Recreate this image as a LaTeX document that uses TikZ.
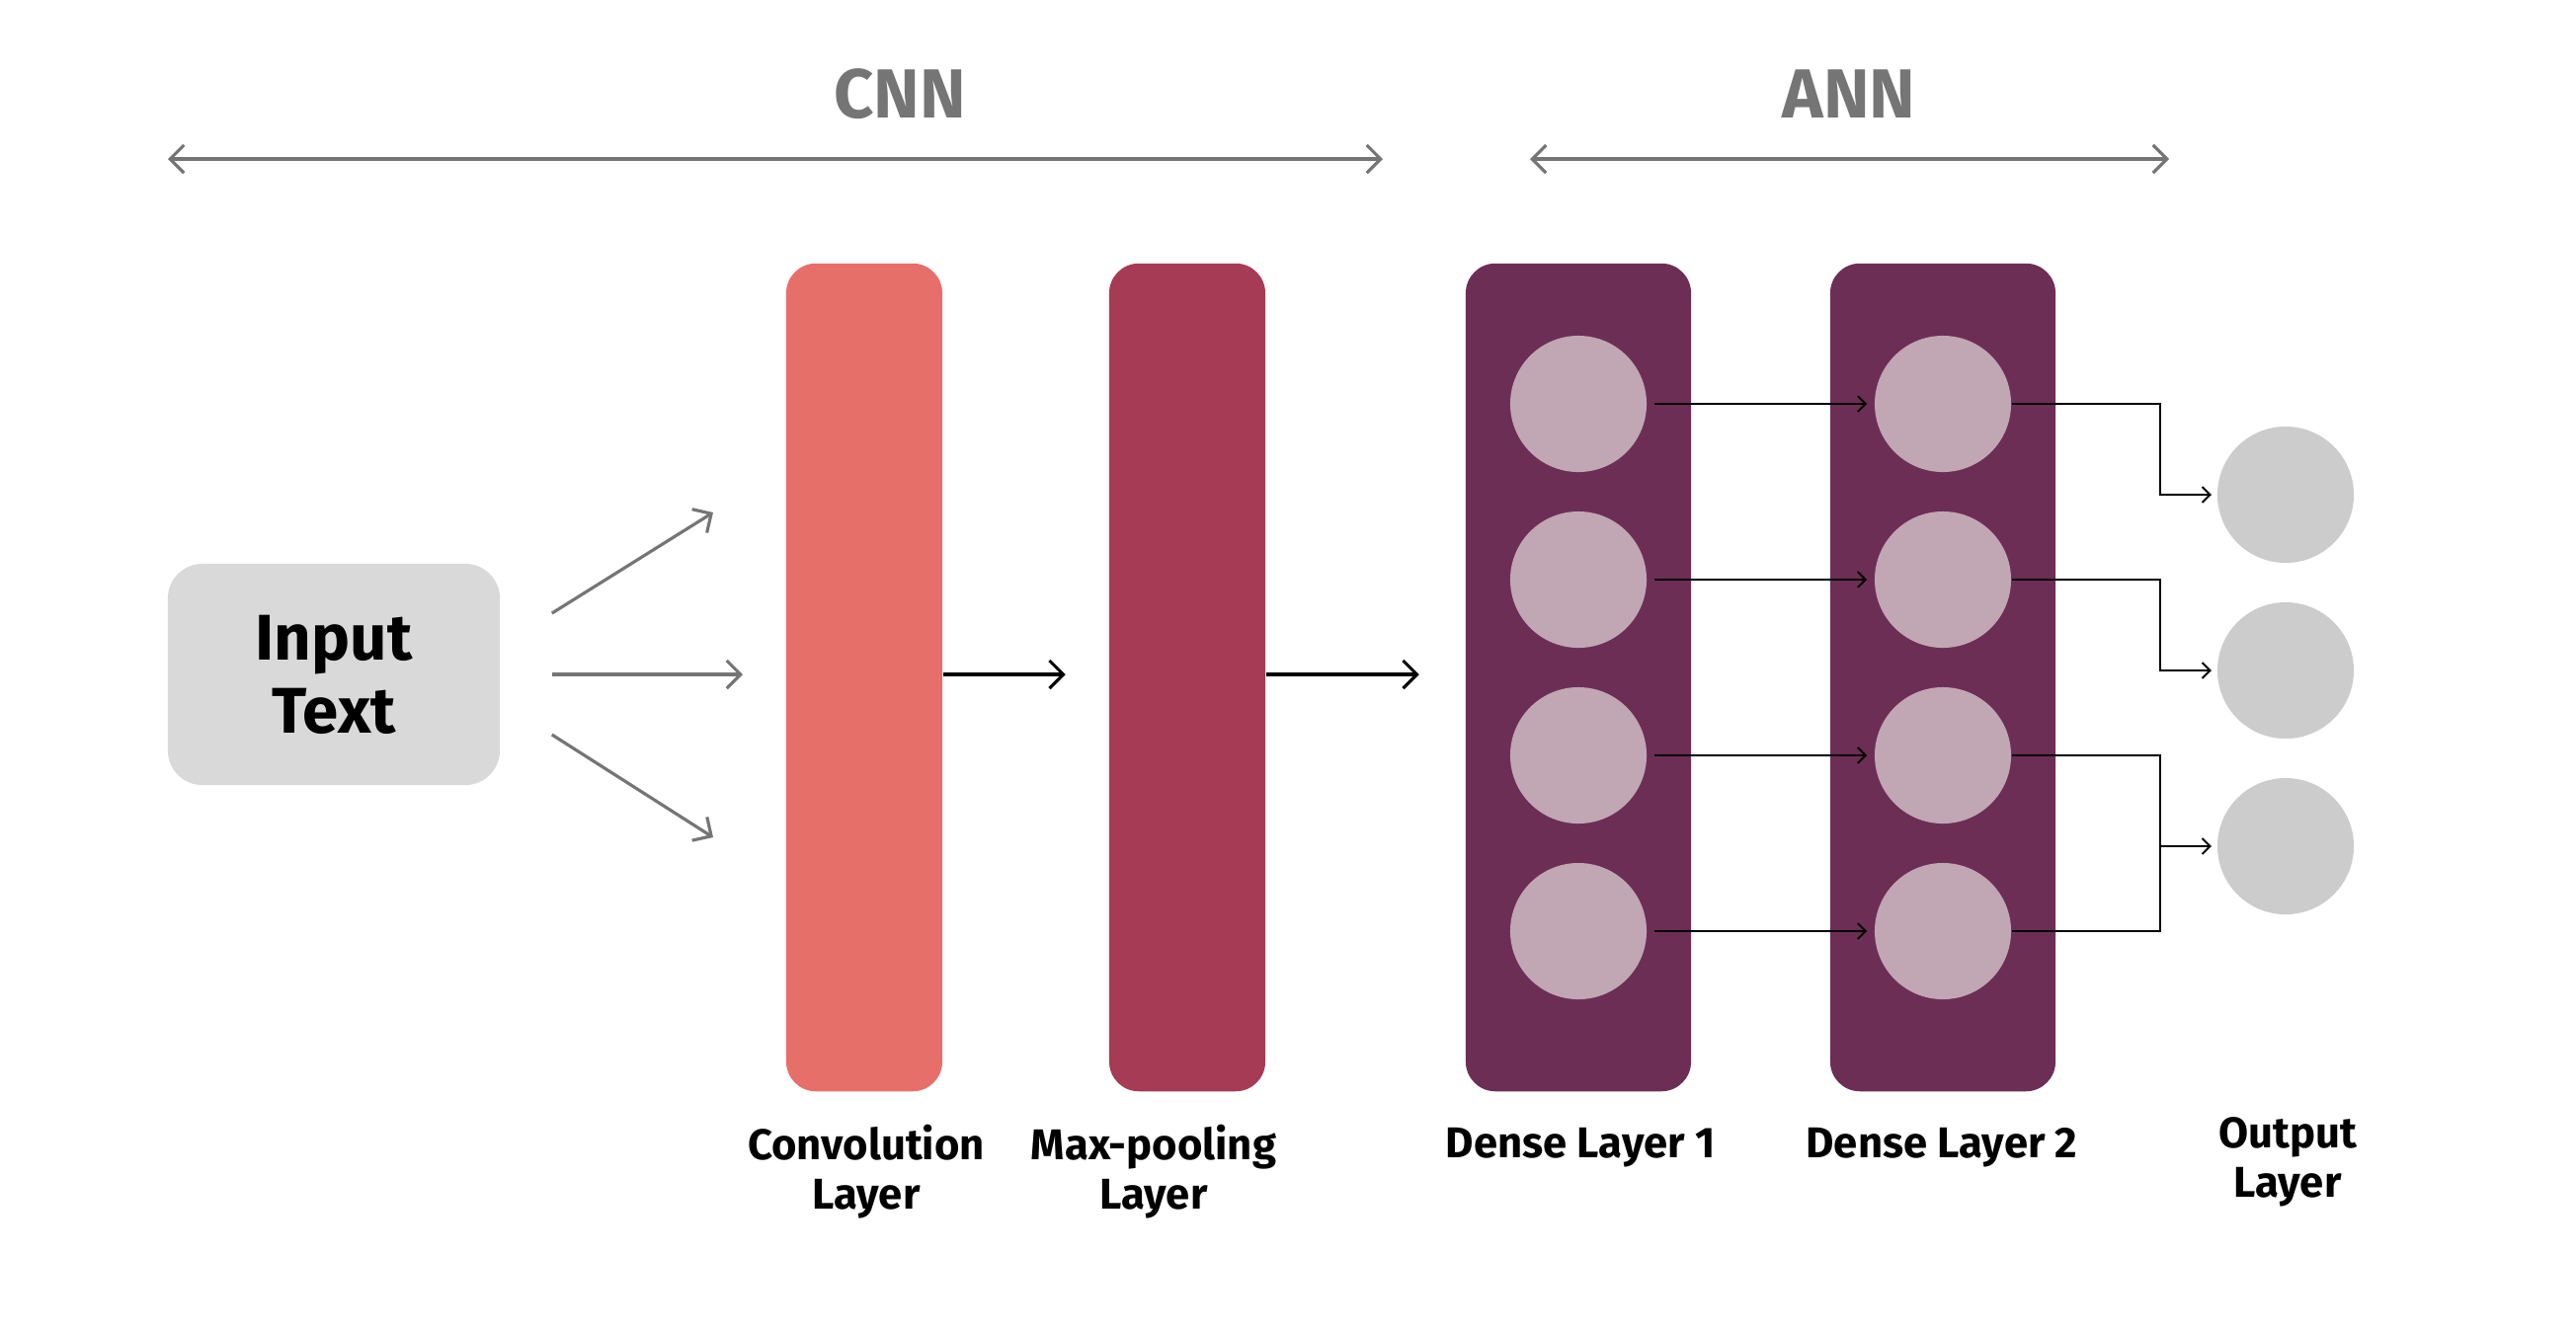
\documentclass[tikz,border=0pt]{standalone}
\usepackage{fontspec}
\setmainfont{Fira Sans}
\usetikzlibrary{arrows.meta}
\definecolor{convred}{RGB}{231,111,106}
\definecolor{poolred}{RGB}{166,59,86}
\definecolor{densepurple}{RGB}{109,46,85}
\definecolor{neuronpink}{RGB}{193,166,180}
\definecolor{outgray}{RGB}{204,204,204}
\definecolor{inputgray}{RGB}{217,217,217}
\definecolor{arrowgray}{RGB}{117,117,117}
\tikzset{
	layerbar/.style={rounded corners=0.3cm,minimum width=1.58cm,minimum height=8.38cm,inner sep=0pt},
	densebox/.style={layerbar,fill=densepurple,minimum width=2.28cm},
	neuron/.style={circle,fill=neuronpink,minimum size=1.38cm,inner sep=0pt},
	outneuron/.style={neuron,fill=outgray},
	lbl/.style={font=\bfseries\fontsize{12.4}{14.2}\selectfont,align=center},
	title/.style={font=\bfseries\fontsize{20}{24}\selectfont,text=arrowgray},
	grayarr/.style={draw=arrowgray,line width=0.9pt,-{Straight Barb[length=4pt,width=8pt]}},
	span/.style={draw=arrowgray,line width=0.9pt,{Straight Barb[length=4pt,width=8pt]}-{Straight Barb[length=4pt,width=8pt]}},
	blackarr/.style={draw=black,line width=0.9pt,-{Straight Barb[length=4pt,width=8pt]}},
	thinarr/.style={draw=black,line width=0.55pt,-{Straight Barb[length=2.3pt,width=4.5pt]}}
}
\begin{document}
\begin{tikzpicture}[x=0.01cm,y=-0.01cm]
	\useasboundingbox (0,0) rectangle (2608,1350);
	% CNN / ANN spans
	\node[title] (cnn) at (911,95) {CNN};
	\node[title] (ann) at (1872,95) {ANN};
	\coordinate (cnnL) at (170,161);
	\coordinate (cnnR) at (1400,161);
	\coordinate (annL) at (1549,161);
	\coordinate (annR) at (2196,161);
	\draw[span] (cnnL) -- (cnnR);
	\draw[span] (annL) -- (annR);
	% input
	\node[fill=inputgray,rounded corners=0.35cm,minimum width=3.36cm,minimum height=2.24cm,align=center,font=\bfseries\fontsize{18.6}{21}\selectfont] (input) at (338,683) {Input\\Text};
	\coordinate (up) at (722,519);
	\coordinate (mid) at (752,683);
	\coordinate (down) at (722,848);
	\draw[grayarr] ([shift={(52,-62)}]input.east) -- (up);
	\draw[grayarr] ([shift={(52,0)}]input.east) -- (mid);
	\draw[grayarr] ([shift={(52,61)}]input.east) -- (down);
	% layers
	\node[layerbar,fill=convred] (conv) at (875,686) {};
	\node[layerbar,fill=poolred] (pool) at (1202,686) {};
	\node[densebox] (d1) at (1598,686) {};
	\node[densebox] (d2) at (1967,686) {};
	\draw[blackarr] (conv.east |- mid) -- ++(124,0);
	\draw[blackarr] (pool.east |- mid) -- ++(155,0);
	\foreach \i/\y in {1/409,2/587,3/765,4/943}{
		\node[neuron] (a\i) at (1598,\y) {};
		\node[neuron] (b\i) at (1967,\y) {};
		\draw[thinarr,shorten <=2pt,shorten >=2pt] (a\i.east) -- (b\i.west);
	}
	\foreach \i/\y in {1/501,2/679,3/857}
		\node[outneuron] (o\i) at (2314,\y) {};
	\draw[thinarr,shorten >=1.5pt] (b1.east) -- ++(150,0) |- (o1.west);
	\draw[thinarr,shorten >=1.5pt] (b2.east) -- ++(150,0) |- (o2.west);
	\draw[line width=0.55pt] (b3.east) -- ++(150,0) coordinate (j3) |- (b4.east);
	\draw[thinarr,shorten >=1.5pt] (j3 |- o3) -- (o3.west);
	% labels
	\node[lbl] (convlbl) at (877,1187) {Convolution\\Layer};
	\node[lbl] (poollbl) at (1168,1187) {Max-pooling\\Layer};
	\node[lbl] (d1lbl) at (1600,1162) {Dense Layer 1};
	\node[lbl] (d2lbl) at (1966,1162) {Dense Layer 2};
	\node[lbl] (outlbl) at (2316,1177) {Output\\Layer};
\end{tikzpicture}
\end{document}
